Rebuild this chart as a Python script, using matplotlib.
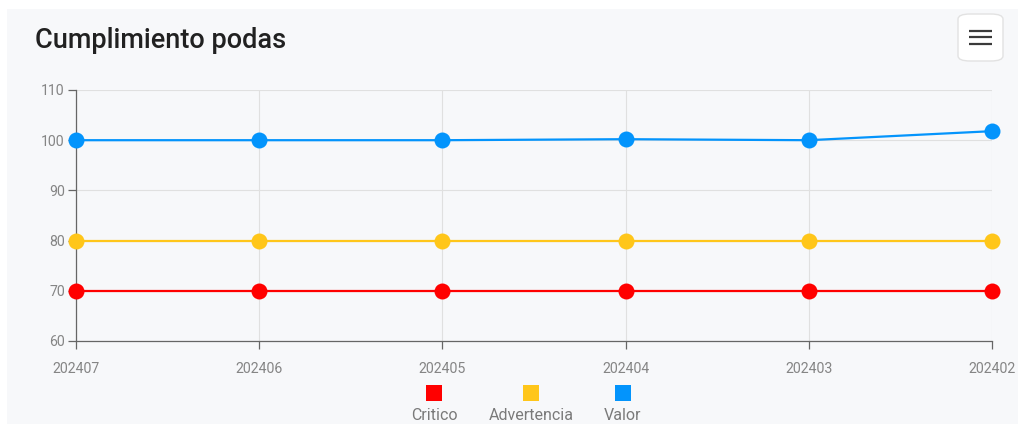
import matplotlib
matplotlib.use("Agg")
import matplotlib.pyplot as plt
from matplotlib.patches import FancyBboxPatch, Rectangle
from matplotlib.lines import Line2D

plt.rcParams['font.family'] = ['Roboto', 'DejaVu Sans']

categories = ["202407", "202406", "202405", "202404", "202403", "202402"]
critico = [70, 70, 70, 70, 70, 70]
advertencia = [80, 80, 80, 80, 80, 80]
valor = [100, 100, 100, 100.2, 100, 101.8]
series_names = ["Critico", "Advertencia", "Valor"]
colors = ["#FF0000", "#FFC61A", "#0394FC"]
yticks = [60, 70, 80, 90, 100, 110]

W, H = 1018, 424
fig = plt.figure(figsize=(W / 100, H / 100), dpi=100)
fig.patch.set_facecolor("white")
# card background
fig.patches.append(Rectangle((7 / W, 0), 1 - 7 / W, 1 - 9 / H, transform=fig.transFigure,
                             facecolor="#F7F8FA", edgecolor="none", zorder=-5))

ax = fig.add_axes([76 / W, 1 - 341 / H, (992 - 76) / W, (341 - 90) / H])
ax.set_facecolor("none")
ax.set_zorder(1)
x = list(range(len(categories)))
for vals, c in zip([critico, advertencia, valor], colors):
    ax.plot(x, vals, color=c, lw=1.6, marker="o", markersize=11.5, markeredgewidth=0,
            clip_on=False, zorder=3)

ax.set_xlim(0, len(categories) - 1)
ax.set_ylim(60, 110)
ax.set_yticks(yticks)
ax.set_xticks(x)
ax.set_xticklabels(categories)
ax.grid(True, color="#E0E0E0", lw=0.8)
ax.set_axisbelow(True)
for s in ["top", "right"]:
    ax.spines[s].set_visible(False)
for s in ["left", "bottom"]:
    ax.spines[s].set_color("#666666")
    ax.spines[s].set_linewidth(0.9)
ax.tick_params(axis="both", colors="#666666", labelcolor="#858585", labelsize=10.2, length=6, width=0.9)
ax.tick_params(axis="x", pad=9)
ax.tick_params(axis="y", pad=2)

# title
fig.text(35 / W, 1 - 40 / H, "Cumplimiento podas", fontsize=19.5, fontweight="medium",
         color="#212121", va="center", ha="left")

# menu button
fig.patches.append(FancyBboxPatch((958 / W, 1 - 61 / H), 45 / W, 47 / H,
                                  boxstyle="round,pad=0,rounding_size=0.012",
                                  transform=fig.transFigure, facecolor="white",
                                  edgecolor="#E2E2E2", lw=1, zorder=2))
for yy in [30.7, 37.3, 44.3]:
    fig.add_artist(Line2D([969 / W, 992 / W], [1 - yy / H, 1 - yy / H], color="#3A3A3A",
                          lw=1.6, zorder=3, solid_capstyle="butt"))

# legend
leg_x = [434, 531, 623]
for name, c, lx in zip(series_names, colors, leg_x):
    fig.patches.append(Rectangle(((lx - 8) / W, 1 - 401 / H), 16 / W, 16 / H,
                                 transform=fig.transFigure, facecolor=c, edgecolor="none"))
    fig.text(lx / W, 1 - 415 / H, name, fontsize=11.5, color="#7A7A7A", ha="center", va="center")

fig.savefig("out.png", dpi=100, facecolor=fig.get_facecolor())
